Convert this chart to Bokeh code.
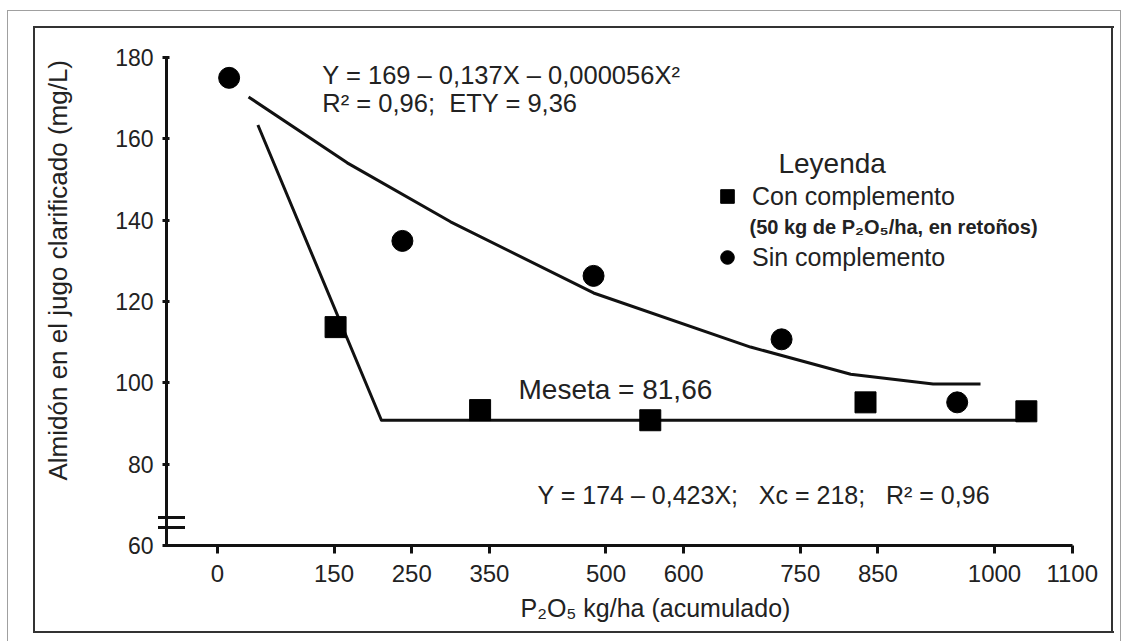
import math
from bokeh.plotting import figure
from bokeh.models import (Range1d, FixedTicker, Label, Legend, LegendItem, Title)
from bokeh.embed import file_html
from bokeh.resources import INLINE

# ---------------- data ----------------
sin_x = [15, 238, 484, 726, 952]            # Sin complemento (circles)
sin_y = [175.0, 134.9, 126.3, 110.7, 95.2]
con_x = [152, 338, 557, 834, 1041]          # Con complemento (squares)
con_y = [113.7, 93.3, 90.8, 95.2, 93.0]
fit_sin_x = [40, 167, 300, 484, 686, 815, 921, 982]   # quadratic fit curve
fit_sin_y = [170.3, 154.1, 139.6, 122.1, 108.8, 102.1, 99.7, 99.7]
fit_con_x = [52, 211, 1046]                 # linear-plateau fit
fit_con_y = [163.4, 90.8, 90.8]
x_ticks = [0, 150, 250, 350, 500, 600, 750, 850, 1000, 1100]
y_ticks = [60, 80, 100, 120, 140, 160, 180]

FONT = "Liberation Sans"
TXT = "#222222"
INK = "#111111"
NB = "\u00a0"


def css_line(x, y, w, h, color):
    return f"linear-gradient({color},{color}) {x}px {y}px / {w}px {h}px no-repeat"


# decorative frames and axis-break marks drawn as page background
frame_layers = [
    css_line(7, 10, 1114, 1, "#a0a0a0"),
    css_line(7, 10, 1, 631, "#a0a0a0"),
    css_line(1120, 10, 1, 631, "#a0a0a0"),
    css_line(33, 26, 1081, 2, "#333333"),
    css_line(33, 631, 1081, 2, "#333333"),
    css_line(33, 26, 2, 607, "#333333"),
    css_line(1111, 26, 2, 607, "#333333"),
    css_line(158, 516, 27, 3, INK),
    css_line(158, 526, 27, 3, INK),
]
bg = ", ".join(frame_layers) + ", white"

p = figure(width=1128, height=641, output_backend="svg", toolbar_location=None,
           x_range=Range1d(-65.6, 1100.4), y_range=Range1d(60, 180),
           min_border_left=166, min_border_right=56,
           min_border_top=57, min_border_bottom=96,
           styles={"background": bg})
p.background_fill_alpha = 0
p.border_fill_alpha = 0
p.outline_line_color = None
p.xgrid.visible = False
p.ygrid.visible = False

# axes
for ax in (p.xaxis, p.yaxis):
    ax.axis_line_width = 3
    ax.axis_line_color = INK
    ax.major_tick_line_width = 3
    ax.major_tick_line_color = INK
    ax.minor_tick_line_color = None
    ax.major_label_text_font = FONT
    ax.major_label_text_color = TXT
p.xaxis.major_label_text_font_size = "24px"
p.yaxis.major_label_text_font_size = "23px"
p.xaxis.ticker = FixedTicker(ticks=x_ticks)
p.yaxis.ticker = FixedTicker(ticks=y_ticks)
p.xaxis.major_tick_in = 0
p.xaxis.major_tick_out = 8
p.xaxis.major_label_standoff = 11
p.yaxis.major_tick_in = 3
p.yaxis.major_tick_out = 4
p.yaxis.major_label_standoff = 9

# axis titles
p.add_layout(Title(text="Almidón en el jugo clarificado (mg/L)", align="left",
                   offset=65, standoff=80, text_font=FONT, text_font_size="26px",
                   text_font_style="normal", text_color=TXT), "left")
p.add_layout(Title(text="P₂O₅ kg/ha (acumulado)", align="left", offset=354,
                   standoff=14, text_font=FONT, text_font_size="25px",
                   text_font_style="normal", text_color=TXT), "below")

# fitted lines
p.line(fit_sin_x, fit_sin_y, line_width=3, line_color=INK, line_join="round")
p.line(fit_con_x, fit_con_y, line_width=3, line_color=INK, line_join="round")

# observations
sq = p.scatter(con_x, con_y, marker="square", size=21, fill_color="black",
               line_color="black")
ci = p.scatter(sin_x, sin_y, marker="circle", size=21, fill_color="black",
               line_color="black")

# legend
legend = Legend(items=[LegendItem(label="Con complemento", renderers=[sq]),
                       LegendItem(label="Sin complemento", renderers=[ci])],
                location=(544, 271), glyph_width=34, glyph_height=34,
                label_standoff=8, spacing=27, padding=0, margin=0,
                border_line_alpha=0, background_fill_alpha=0,
                label_text_font=FONT, label_text_font_size="25px",
                label_text_color=TXT)
p.add_layout(legend)


def lab(x, y, text, size, bold=False):
    p.add_layout(Label(x=x, y=y, text=text, text_font=FONT,
                       text_font_size=size, text_color=TXT,
                       text_font_style="bold" if bold else "normal",
                       text_baseline="alphabetic"))


lab(135, 175.6, "Y = 169 – 0,137X – 0,000056X²", "25.5px")
lab(135, 168.9, f"R² = 0,96;{NB}{NB}ETY = 9,36", "25.5px")
lab(722, 153.9, "Leyenda", "28px")
lab(684.7, 138.4, "(50 kg de P₂O₅/ha, en retoños)", "20px", bold=True)
lab(387.4, 98.4, "Meseta = 81,66", "28px")
lab(412, 72.5, f"Y = 174 – 0,423X;{NB}{NB}{NB}Xc = 218;{NB}{NB}{NB}R² = 0,96", "25px")

open("out.html", "w").write(file_html(p, INLINE))
